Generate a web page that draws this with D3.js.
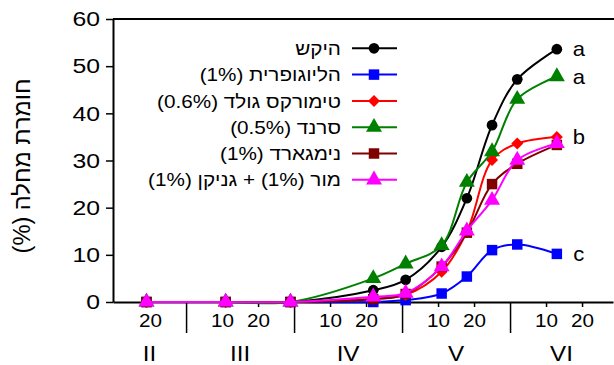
<!DOCTYPE html>
<html>
<head>
<meta charset="utf-8">
<script src="https://cdn.jsdelivr.net/npm/d3@7/dist/d3.min.js"></script>
<style>
  body { margin: 0; background: #fff; }
  text { font-family: "Liberation Sans", Arial, sans-serif; fill: #000; }
</style>
</head>
<body>
<svg id="chart" width="614" height="365"></svg>
<script>
// sampling dates: [month, day]
const dates = [[2, 19], [3, 11], [3, 29], [4, 22], [5, 1], [5, 11], [5, 18], [5, 25], [6, 2], [6, 13]];

const seriesNames = ['היקש', 'הליוגופרית (1%)', 'טימורקס גולד (0.6%)', 'סרנד (0.5%)', 'נימגארד (1%)', 'מור (1%) + גניקן (1%)'];
const control   = [0, 0, 0, 2.5, 4.7, 11.7, 22.0, 37.5, 47.2, 53.6];
const heliogo   = [0, 0, 0, 0, 0.4, 1.8, 5.4, 11.0, 12.2, 10.2];
const timorex   = [0, 0, 0, 0.7, 1.5, 6.4, 14.9, 30.1, 33.6, 35.0];
const serenade  = [0, 0, 0, 5.0, 8.1, 12.0, 25.4, 31.9, 43.0, 47.8];
const nimgard   = [0, 0, 0, 0.6, 1.7, 7.5, 14.7, 25.0, 29.3, 33.3];
const morGanikan = [0, 0, 0, 1.1, 1.9, 7.5, 15.1, 21.6, 30.1, 33.6];
const letters = ['a', 'c', 'b', 'a', '', ''];

const yTicks = [0, 10, 20, 30, 40, 50, 60];
const dayTicks = [[2, 20], [3, 10], [3, 20], [4, 10], [4, 20], [5, 10], [5, 20], [6, 10], [6, 20]];
const monthLabels = ['II', 'III', 'IV', 'V', 'VI'];
const monthNums = [2, 3, 4, 5, 6];

const colors = ['#000000', '#0000ff', '#ff0000', '#008000', '#800000', '#ff00ff'];
const shapes = ['circle', 'square', 'diamond', 'triangle', 'square', 'triangle'];

const allSeries = [control, heliogo, timorex, serenade, nimgard, morGanikan];

// month-based position: month + day/30
const mpos = d => d[0] + d[1] / 30;

const svg = d3.select('#chart');
const pLeft = 113, pRight = 613, pTop = 19, pBottom = 302;
const stretch = 1.18; // text in the original is drawn a bit wide

const x = d3.scaleLinear().domain([2 + 9.7 / 30, 6 + 28.6 / 30]).range([pLeft, pRight]);
const y = d3.scaleLinear().domain([0, 60]).range([pBottom, pTop]);

// y axis
const yAxis = svg.append('g')
  .attr('transform', `translate(${pLeft},0)`)
  .call(d3.axisLeft(y).tickValues(yTicks).tickSize(7).tickPadding(6).tickSizeOuter(0));
yAxis.select('.domain').attr('stroke-width', 2);
yAxis.selectAll('.tick line').attr('stroke-width', 1.5);
yAxis.selectAll('.tick text')
  .style('font-size', '21px').attr('fill', '#000')
  .attr('x', -13 / stretch)
  .attr('transform', `scale(${stretch},1)`);

// top frame line at 60
svg.append('line')
  .attr('x1', pLeft).attr('x2', pRight + 1)
  .attr('y1', y(60)).attr('y2', y(60))
  .attr('stroke', '#000').attr('stroke-width', 2);

// x axis: day ticks
const xAxis = svg.append('g')
  .attr('transform', `translate(0,${pBottom})`)
  .call(d3.axisBottom(x).tickValues(dayTicks.map(mpos)).tickSize(5).tickPadding(8)
    .tickSizeOuter(0).tickFormat((v, i) => dayTicks[i][1]));
xAxis.select('.domain').attr('stroke-width', 2);
xAxis.selectAll('.tick line').attr('stroke-width', 1.5);
xAxis.selectAll('.tick text')
  .style('font-size', '17.5px').attr('fill', '#000')
  .attr('transform', `scale(${stretch},1)`);

// month boundaries (long ticks)
const mAxis = svg.append('g')
  .attr('transform', `translate(0,${pBottom})`)
  .call(d3.axisBottom(x).tickValues(monthNums.slice(1)).tickSize(31).tickFormat(''));
mAxis.select('.domain').remove();
mAxis.selectAll('.tick line').attr('stroke-width', 1.5);

// month labels centred on the visible part of each month
const [d0, d1] = x.domain();
svg.append('g').selectAll('text')
  .data(monthNums)
  .join('text')
  .attr('transform', m => `translate(${x((Math.max(m, d0) + Math.min(m + 1, d1)) / 2)},361) scale(1.1,1)`)
  .attr('text-anchor', 'middle')
  .style('font-size', '22px')
  .text((m, i) => monthLabels[i]);

// y label
svg.append('text')
  .attr('transform', 'translate(30,166) rotate(-90)')
  .attr('text-anchor', 'middle')
  .attr('direction', 'rtl')
  .attr('textLength', 175)
  .attr('lengthAdjust', 'spacingAndGlyphs')
  .style('font-size', '23px')
  .text('חומרת מחלה (%)');

const symbolPath = (shape) => {
  if (shape === 'circle') return d3.symbol(d3.symbolCircle, 90)();
  if (shape === 'square') return d3.symbol(d3.symbolSquare, 110)();
  if (shape === 'diamond') return d3.symbol(d3.symbolSquare, 72)();
  return d3.symbol(d3.symbolTriangle, 110)();
};
const symbolRot = shape => (shape === 'diamond' ? ' rotate(45)' : '');

const line = d3.line()
  .x((v, i) => x(mpos(dates[i])))
  .y(v => y(v))
  .curve(d3.curveCatmullRom.alpha(0.5));

allSeries.forEach((vals, k) => {
  const g = svg.append('g');
  g.append('path')
    .attr('d', line(vals))
    .attr('fill', 'none')
    .attr('stroke', colors[k])
    .attr('stroke-width', 2);
  g.selectAll('path.pt')
    .data(vals)
    .join('path')
    .attr('class', 'pt')
    .attr('d', symbolPath(shapes[k]))
    .attr('transform', (v, i) => `translate(${x(mpos(dates[i]))},${y(v)})${symbolRot(shapes[k])}`)
    .attr('fill', colors[k]);
});

// significance letters
allSeries.forEach((vals, k) => {
  if (!letters[k]) return;
  const last = vals.length - 1;
  svg.append('text')
    .attr('transform', `translate(${x(mpos(dates[last])) + 22},${y(vals[last])}) scale(1.1,1)`)
    .attr('dy', '0.35em')
    .attr('text-anchor', 'middle')
    .style('font-size', '20px')
    .text(letters[k]);
});

// legend
const legend = svg.append('g');
const legY0 = 48.3, legStep = 26.3;
seriesNames.forEach((name, k) => {
  const ly = legY0 + k * legStep;
  legend.append('line')
    .attr('x1', 352).attr('x2', 397).attr('y1', ly).attr('y2', ly)
    .attr('stroke', colors[k]).attr('stroke-width', 2);
  legend.append('path')
    .attr('d', symbolPath(shapes[k]))
    .attr('transform', `translate(374,${ly})${symbolRot(shapes[k])}`)
    .attr('fill', colors[k]);
  legend.append('text')
    .attr('transform', `translate(341,${ly}) scale(1.09,1)`)
    .attr('dy', '0.35em')
    .attr('direction', 'rtl')
    .attr('text-anchor', 'start')
    .style('font-size', '19px')
    .text(name);
});
</script>
</body>
</html>
